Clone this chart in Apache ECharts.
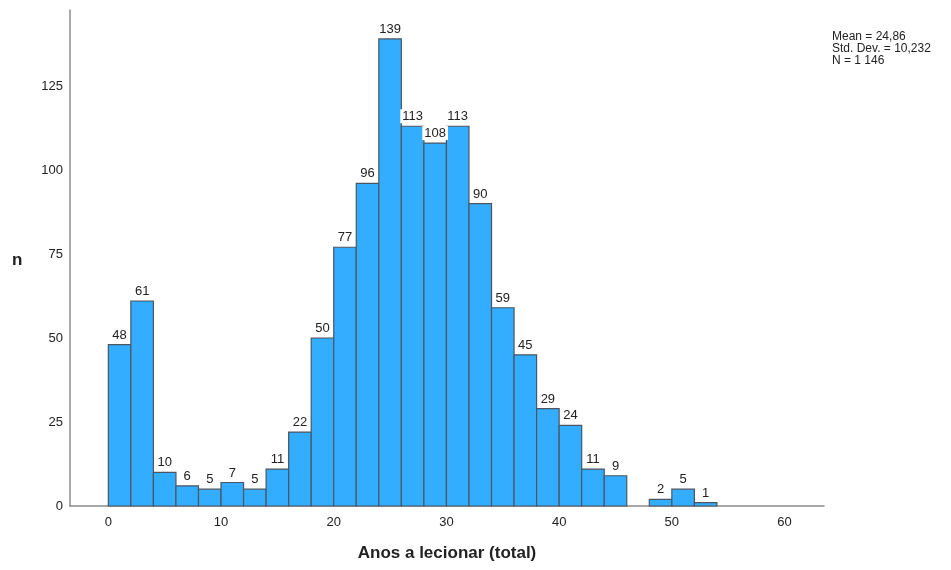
<!DOCTYPE html>
<html><head><meta charset="utf-8">
<script src="https://cdn.jsdelivr.net/npm/echarts@6/dist/echarts.min.js"></script>
<style>html,body{margin:0;padding:0;background:#fff}#c{width:951px;height:570px}</style>
</head><body><div id="c"></div>
<script>
const binStarts = [0,2,4,6,8,10,12,14,16,18,20,22,24,26,28,30,32,34,36,38,40,42,44,46,48,50,52];
const binWidth = 2;
const counts = [48,61,10,6,5,7,5,11,22,50,77,96,139,113,108,113,90,59,45,29,24,11,9,0,2,5,1];
const xTicks = [0,10,20,30,40,50,60];
const yTicks = [0,25,50,75,100,125];
const statsLines = ['Mean = 24,86','Std. Dev. = 10,232','N = 1 146'];
const xTitle = 'Anos a lecionar (total)';
const yTitle = 'n';

const data = binStarts.map((s,i)=>[s, s+binWidth, counts[i]]);
const font = 'Liberation Sans, Arial, sans-serif';
const chart = echarts.init(document.getElementById('c'), null, {renderer:'canvas'});
chart.setOption({
  animation:false,
  grid:{left:70,right:127,top:10,bottom:64},
  xAxis:{type:'value',min:-3.4,max:63.5,
    axisLine:{show:true,onZero:false,lineStyle:{color:'#8c8c8c',width:1.5}},
    axisTick:{show:false},
    splitLine:{show:false},
    axisLabel:{customValues:xTicks,color:'#222',fontSize:13,fontFamily:font,margin:10},
    name:xTitle,nameLocation:'middle',nameGap:39,
    nameTextStyle:{fontSize:17,fontWeight:'bold',color:'#222',fontFamily:font}
  },
  yAxis:{type:'value',min:0,max:147.6,
    axisLine:{show:true,onZero:false,lineStyle:{color:'#8c8c8c',width:1.5}},
    axisTick:{show:false},
    splitLine:{show:false},
    axisLabel:{customValues:yTicks,color:'#222',fontSize:13,fontFamily:font,margin:7}
  },
  graphic:[
    {type:'text',left:12,top:252,style:{text:yTitle,fontSize:17,fontWeight:'bold',fill:'#222',fontFamily:font}},
    {type:'text',left:832,top:31,style:{text:statsLines.join('\n'),fontSize:12,lineHeight:12,fill:'#222',fontFamily:font}}
  ],
  series:[{
    type:'custom',
    data:data,
    encode:{x:[0,1],y:2},
    renderItem:function(params,api){
      const x0=api.value(0), x1=api.value(1), v=api.value(2);
      if(!(v>0)) return {type:'group',children:[]};
      const p0=api.coord([x0,0]); const p1=api.coord([x1,v]);
      return {type:'group',children:[
        {type:'rect',shape:{x:p0[0],y:p1[1],width:p1[0]-p0[0],height:p0[1]-p1[1]},
          style:{fill:'#33adff',stroke:'#4d5560',lineWidth:1.2}},
        {type:'text',z2:10,style:{text:String(v),x:(p0[0]+p1[0])/2,y:p1[1]-3,
          align:'center',verticalAlign:'bottom',fontSize:13,fontFamily:font,fill:'#222',
          backgroundColor:'#fff',padding:[1,2,0,2]}}
      ]};
    }
  }]
});
</script></body></html>
